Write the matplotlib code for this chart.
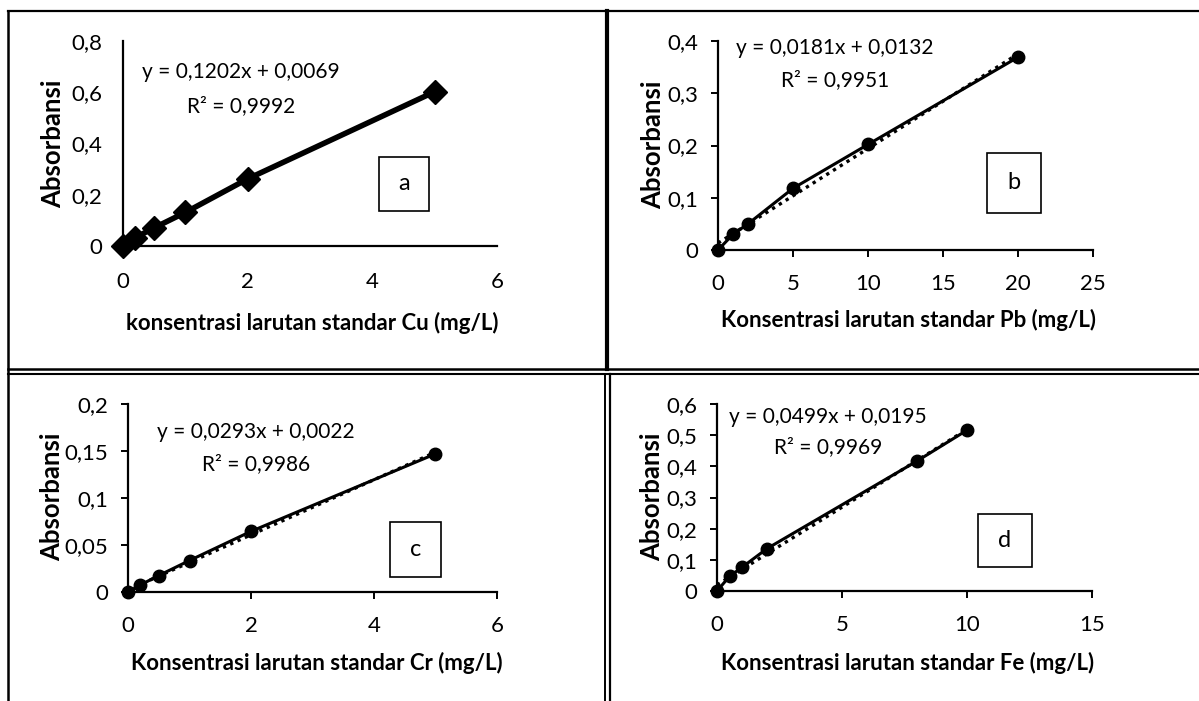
import matplotlib
matplotlib.use("Agg")
import matplotlib.pyplot as plt
from matplotlib.lines import Line2D
from matplotlib.patches import Rectangle
import numpy as np

plt.rcParams['font.family'] = ['Lato', 'DejaVu Sans']

# ---- data ----
cu_x = [0, 0.2, 0.5, 1, 2, 5]
cu_y = [0, 0.033, 0.071, 0.131, 0.262, 0.602]
pb_x = [0, 1, 2, 5, 10, 20]
pb_y = [0, 0.030, 0.050, 0.118, 0.202, 0.369]
cr_x = [0, 0.2, 0.5, 1, 2, 5]
cr_y = [0, 0.0075, 0.0175, 0.0335, 0.0645, 0.147]
fe_x = [0, 0.5, 1, 2, 8, 10]
fe_y = [0, 0.047, 0.076, 0.136, 0.417, 0.516]

fits = {'b': (0.0181, 0.0132), 'c': (0.0293, 0.0022), 'd': (0.0499, 0.0195)}

eq_text = {'a': ("y = 0,1202x + 0,0069", "R² = 0,9992"),
           'b': ("y = 0,0181x + 0,0132", "R² = 0,9951"),
           'c': ("y = 0,0293x + 0,0022", "R² = 0,9986"),
           'd': ("y = 0,0499x + 0,0195", "R² = 0,9969")}

xlabels = {'a': "konsentrasi larutan standar Cu (mg/L)",
           'b': "Konsentrasi larutan standar Pb (mg/L)",
           'c': "Konsentrasi larutan standar Cr (mg/L)",
           'd': "Konsentrasi larutan standar Fe (mg/L)"}

xticks = {'a': [0, 2, 4, 6], 'b': [0, 5, 10, 15, 20, 25],
          'c': [0, 2, 4, 6], 'd': [0, 5, 10, 15]}
yticks = {'a': [0, 0.2, 0.4, 0.6, 0.8], 'b': [0, 0.1, 0.2, 0.3, 0.4],
          'c': [0, 0.05, 0.1, 0.15, 0.2], 'd': [0, 0.1, 0.2, 0.3, 0.4, 0.5, 0.6]}

W, H = 1199, 701
fig = plt.figure(figsize=(W / 100, H / 100), dpi=100)
fig.patch.set_facecolor('white')


def rect(l, r, t, b):
    return [l / W, 1 - b / H, (r - l) / W, (b - t) / H]


# layout (pixels): left, right, top, bottom
layout = {
    'a': rect(123, 497, 41, 246),
    'b': rect(718, 1093, 41, 250),
    'c': rect(128, 497, 404, 592),
    'd': rect(717, 1092, 404, 591),
}

eq_pos = {'a': ((0.314, 0.849), (0.317, 0.683)),
          'b': ((0.312, 0.966), (0.312, 0.813)),
          'c': ((0.346, 0.851), (0.347, 0.681)),
          'd': ((0.296, 0.932), (0.296, 0.770))}
box_pos = {'a': (0.684, 0.819, 0.172, 0.436),
           'b': (0.717, 0.861, 0.178, 0.466),
           'c': (0.710, 0.847, 0.081, 0.371),
           'd': (0.697, 0.839, 0.127, 0.410)}
xlab_pos = {'a': (0.505, -0.374), 'b': (0.509, -0.335),
            'c': (0.511, -0.379), 'd': (0.509, -0.387)}
ylab_pos = {'a': (-0.187, 0.5), 'b': (-0.173, 0.502),
            'c': (-0.206, 0.507), 'd': (-0.173, 0.504)}

data = {'a': (cu_x, cu_y), 'b': (pb_x, pb_y), 'c': (cr_x, cr_y), 'd': (fe_x, fe_y)}

FS_EQ = 15
FS_TICK = 16
FS_XL = 16
FS_YL = 18.5


def fmt(v):
    s = '{:g}'.format(round(v, 4))
    return s.replace('.', ',')


for key in ['a', 'b', 'c', 'd']:
    ax = fig.add_axes(layout[key])
    x, y = data[key]
    xt, yt = xticks[key], yticks[key]
    ax.set_xlim(xt[0], xt[-1])
    ax.set_ylim(yt[0], yt[-1])
    for s in ['top', 'right']:
        ax.spines[s].set_visible(False)
    for s in ['left', 'bottom']:
        ax.spines[s].set_linewidth(1.6)
        ax.spines[s].set_color('black')
    ax.set_xticks(xt)
    ax.set_yticks(yt)
    ax.set_xticklabels([fmt(v) for v in xt], fontsize=FS_TICK)
    ax.set_yticklabels([fmt(v) for v in yt], fontsize=FS_TICK)
    if key == 'a':
        ax.tick_params(axis='both', length=0)
        ax.tick_params(axis='x', pad=19)
        ax.tick_params(axis='y', pad=15)
        ax.plot(x, y, color='black', lw=4, marker='D', ms=12,
                clip_on=False, zorder=3)
    else:
        ax.tick_params(axis='both', length=5, width=1.4, direction='out')
        ax.tick_params(axis='x', pad=12)
        ax.tick_params(axis='y', pad=9)
        m, c = fits[key]
        fx = np.array([x[0], x[-1]])
        ax.plot(fx, m * fx + c, color='black', lw=2.4, ls=(0, (1, 1.4)),
                zorder=2, clip_on=False)
        ax.plot(x, y, color='black', lw=2.2, marker='o', ms=9,
                clip_on=False, zorder=3)
    e1, e2 = eq_text[key]
    (p1, p2) = eq_pos[key]
    ax.text(p1[0], p1[1], e1, transform=ax.transAxes, ha='center', va='center', fontsize=FS_EQ)
    ax.text(p2[0], p2[1], e2, transform=ax.transAxes, ha='center', va='center', fontsize=FS_EQ)
    x0, x1, y0, y1 = box_pos[key]
    ax.add_patch(Rectangle((x0, y0), x1 - x0, y1 - y0, transform=ax.transAxes,
                           fill=True, facecolor='white', edgecolor='black', lw=1.2, zorder=4))
    ax.text((x0 + x1) / 2, (y0 + y1) / 2, key, transform=ax.transAxes,
            ha='center', va='center', fontsize=17, zorder=5)
    ax.text(xlab_pos[key][0], xlab_pos[key][1], xlabels[key], transform=ax.transAxes,
            ha='center', va='center', fontsize=FS_XL, fontweight='bold')
    ax.text(ylab_pos[key][0], ylab_pos[key][1], "Absorbansi", transform=ax.transAxes,
            ha='center', va='center', fontsize=FS_YL, fontweight='bold', rotation=90)


def fline(x0, y0, x1, y1, lw):
    fig.add_artist(Line2D([x0 / W, x1 / W], [1 - y0 / H, 1 - y1 / H],
                          color='black', lw=lw, transform=fig.transFigure))


# table borders
fline(8, 11, W, 11, 1.6)
fline(8, 11, 8, H, 1.8)
fline(8, 369, W, 369, 1.8)
fline(8, 373.5, W, 373.5, 1.5)
fline(607, 11, 607, 369, 3.0)
fline(605, 373.5, 605, H, 1.4)
fline(609.5, 373.5, 609.5, H, 1.6)

fig.savefig('out.png', dpi=100, facecolor='white')
